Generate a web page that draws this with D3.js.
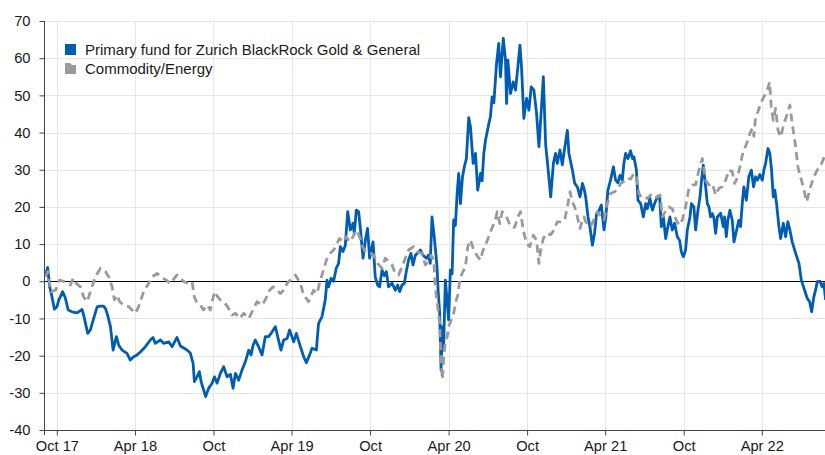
<!DOCTYPE html>
<html>
<head>
<meta charset="utf-8">
<script src="https://cdn.jsdelivr.net/npm/d3@7"></script>
<style>
  body { margin: 0; background: #fff; }
  #chart text { font-family: "Liberation Sans", Arial, sans-serif; fill: #1a1a1a; }
  .grid line { stroke: #e6e6e6; }
  .line { fill: none; stroke-width: 2.8; stroke-linejoin: round; }
</style>
</head>
<body>
<div id="chart"></div>
<script>
// series values, time given as decimal years
var fundSeries = [
  [2017.675,1.5],[2017.689,3.7],[2017.702,-1.5],[2017.717,-4.2],[2017.732,-7.5],[2017.749,-6.8],[2017.760,-5],[2017.770,-4.2],
  [2017.785,-2.8],[2017.802,-4.5],[2017.820,-7.7],[2017.845,-8.2],[2017.877,-8.5],[2017.909,-7.6],[2017.919,-9.1],[2017.945,-14],
  [2017.962,-13.1],[2017.983,-10],[2018.005,-6.9],[2018.026,-6.7],[2018.047,-6.7],[2018.060,-7.5],[2018.072,-9.1],[2018.090,-12.2],
  [2018.107,-18.5],[2018.128,-14.9],[2018.143,-17.2],[2018.164,-18.5],[2018.196,-19.4],[2018.217,-21.2],[2018.238,-20.3],[2018.260,-19.8],
  [2018.281,-19],[2018.313,-17.6],[2018.345,-15.8],[2018.362,-15.1],[2018.377,-16.7],[2018.409,-15.8],[2018.430,-16.7],[2018.462,-16.3],
  [2018.484,-17.6],[2018.515,-15.1],[2018.537,-17.4],[2018.579,-18.5],[2018.600,-19.3],[2018.618,-22.1],[2018.626,-27],[2018.643,-25.7],
  [2018.658,-24.3],[2018.669,-27],[2018.685,-29.2],[2018.698,-31],[2018.717,-28.8],[2018.739,-27.4],[2018.754,-25.7],[2018.771,-27.4],
  [2018.792,-24.8],[2018.813,-23],[2018.835,-25.7],[2018.856,-25],[2018.873,-28.8],[2018.888,-24.8],[2018.909,-26.6],[2018.930,-23.9],
  [2018.952,-21.6],[2018.973,-18.5],[2018.988,-19.8],[2019.001,-17.2],[2019.015,-15.8],[2019.036,-17.6],[2019.058,-19.8],[2019.079,-14.9],
  [2019.100,-14.9],[2019.116,-14],[2019.143,-12.2],[2019.158,-14.9],[2019.179,-18.5],[2019.196,-15.8],[2019.218,-15.4],[2019.234,-13.1],
  [2019.260,-16.3],[2019.277,-14],[2019.303,-17.6],[2019.324,-20.3],[2019.341,-21.9],[2019.362,-19.8],[2019.377,-18],[2019.405,-18.5],
  [2019.419,-11.3],[2019.441,-9.5],[2019.462,-5],[2019.473,0.3],[2019.483,-1.5],[2019.499,0.8],[2019.515,0],[2019.532,3.5],
  [2019.547,4.8],[2019.558,9.3],[2019.575,8],[2019.590,9.7],[2019.605,18.7],[2019.622,13.8],[2019.639,15.6],[2019.647,12.9],
  [2019.660,19.1],[2019.675,18.7],[2019.686,14.2],[2019.703,6.2],[2019.718,11.1],[2019.732,14.2],[2019.745,6.2],[2019.767,10.6],
  [2019.781,1.2],[2019.796,-1],[2019.809,-1.5],[2019.824,3],[2019.839,1.5],[2019.852,2.6],[2019.866,-1.5],[2019.888,-0.5],
  [2019.909,-2.4],[2019.924,-1],[2019.937,-2.8],[2019.952,-1],[2019.967,-0.6],[2019.979,2.6],[2019.994,5.7],[2020.009,7.5],
  [2020.022,4.4],[2020.037,7],[2020.058,7.9],[2020.069,8.4],[2020.086,7],[2020.107,6.2],[2020.120,7],[2020.132,4.8],
  [2020.143,17.3],[2020.154,13.3],[2020.164,9],[2020.175,3.9],[2020.182,-2.4],[2020.192,-8.6],[2020.201,-23.9],[2020.209,-12.2],
  [2020.217,-17.6],[2020.228,0.3],[2020.239,-5],[2020.249,-10.4],[2020.260,3],[2020.271,2],[2020.281,16.5],[2020.292,15],
  [2020.303,23.6],[2020.313,29],[2020.324,20.9],[2020.337,28],[2020.349,30.8],[2020.362,33],[2020.377,44],[2020.388,41.5],
  [2020.405,31.7],[2020.420,34.4],[2020.434,24.5],[2020.452,29],[2020.462,27],[2020.473,34.4],[2020.484,38],[2020.505,42.4],
  [2020.515,44.2],[2020.526,49.6],[2020.537,48],[2020.554,58.6],[2020.568,64],[2020.579,55],[2020.597,65.3],[2020.611,59.5],
  [2020.618,47.8],[2020.626,59.5],[2020.643,50.5],[2020.660,53.6],[2020.675,51.4],[2020.690,57.7],[2020.703,63.5],[2020.713,57.7],
  [2020.728,43.8],[2020.745,49.2],[2020.760,46],[2020.775,52.3],[2020.792,51.4],[2020.809,45.1],[2020.824,36.2],[2020.839,46],
  [2020.852,55],[2020.867,36.6],[2020.881,30.8],[2020.899,22.7],[2020.916,31.7],[2020.930,34.4],[2020.941,31.7],[2020.958,35.3],
  [2020.973,31.3],[2020.983,34.4],[2021.005,40.6],[2021.015,34.4],[2021.037,29.9],[2021.052,26.3],[2021.069,25.4],[2021.086,22.7],
  [2021.101,26.3],[2021.111,25],[2021.122,22.7],[2021.137,17.3],[2021.149,14.7],[2021.165,9.7],[2021.179,13],[2021.192,18.3],
  [2021.207,19],[2021.222,20.5],[2021.239,13.8],[2021.250,17],[2021.264,24.5],[2021.281,27.2],[2021.299,30.8],[2021.313,27.2],
  [2021.328,26.5],[2021.341,28.5],[2021.356,27.2],[2021.366,31.7],[2021.377,34.4],[2021.392,33],[2021.409,35.1],[2021.420,33],
  [2021.430,33.5],[2021.446,29.9],[2021.456,21.8],[2021.473,20.9],[2021.490,17.3],[2021.505,20.9],[2021.516,19.5],[2021.532,22.3],
  [2021.548,19.1],[2021.562,20.9],[2021.580,22.7],[2021.594,23],[2021.605,14.7],[2021.618,17.3],[2021.633,11.5],[2021.647,14.7],
  [2021.660,17.3],[2021.675,13.8],[2021.690,15.6],[2021.707,12],[2021.722,11],[2021.733,7.9],[2021.746,6.6],[2021.760,8.4],
  [2021.771,13.8],[2021.788,17.3],[2021.797,20.9],[2021.813,20],[2021.824,13.8],[2021.839,19.1],[2021.852,22.7],[2021.862,27.2],
  [2021.873,31.2],[2021.888,25.4],[2021.899,20.9],[2021.909,20],[2021.920,17.3],[2021.931,18.2],[2021.941,17],[2021.952,12.9],
  [2021.963,17.3],[2021.984,18.3],[2022.001,14.7],[2022.009,17.3],[2022.020,12],[2022.030,16.4],[2022.043,19.1],[2022.058,16.4],
  [2022.069,10.6],[2022.086,13.8],[2022.100,16.4],[2022.111,14.7],[2022.122,20.9],[2022.132,25.4],[2022.148,21.8],[2022.164,28.1],
  [2022.180,29.9],[2022.194,25.4],[2022.207,28.1],[2022.218,27.2],[2022.234,28.7],[2022.250,27.2],[2022.260,29.9],[2022.271,31.7],
  [2022.286,35.7],[2022.298,34.4],[2022.309,29.9],[2022.320,22.7],[2022.330,24.5],[2022.341,20.9],[2022.356,14.7],[2022.367,11.5],
  [2022.384,15.6],[2022.399,12],[2022.413,16],[2022.426,13.8],[2022.441,10.6],[2022.463,7.5],[2022.484,4.8],[2022.499,0.3],
  [2022.520,-2.4],[2022.537,-4.6],[2022.552,-5.5],[2022.565,-8.2],[2022.579,-4.2],[2022.590,-2.4],[2022.601,-0.1],[2022.618,0],
  [2022.632,-1.5],[2022.643,-0.6],[2022.654,-5]
];

var commoditySeries = [
  [2017.675,1.2],[2017.689,2.6],[2017.711,-2.8],[2017.739,-2.4],[2017.766,0.3],[2017.790,0],[2017.813,-0.6],[2017.834,-1],
  [2017.852,0.8],[2017.873,-0.6],[2017.898,-1.5],[2017.919,-4.2],[2017.941,-5.5],[2017.962,-2.8],[2017.994,1.2],[2018.026,3.5],
  [2018.058,2.6],[2018.079,1.2],[2018.101,-1.5],[2018.115,-5],[2018.132,-3.7],[2018.149,-5.5],[2018.175,-6.4],[2018.206,-6.8],
  [2018.228,-7.7],[2018.249,-8.6],[2018.270,-6.8],[2018.302,-2.8],[2018.334,-0.6],[2018.356,1.2],[2018.388,2.1],[2018.420,1],
  [2018.447,0.3],[2018.473,-0.6],[2018.515,1.7],[2018.558,-0.1],[2018.589,-0.6],[2018.611,-0.1],[2018.626,-4.2],[2018.643,-5.9],
  [2018.664,-6.4],[2018.685,-7.7],[2018.707,-6.4],[2018.728,-7.7],[2018.754,-2.8],[2018.775,-4.2],[2018.792,-5],[2018.813,-5.5],
  [2018.838,-6.8],[2018.867,-9.1],[2018.888,-8.6],[2018.915,-10],[2018.941,-8.6],[2018.973,-10],[2019.001,-7.7],[2019.026,-5.5],
  [2019.058,-6.4],[2019.079,-5],[2019.107,-2.4],[2019.128,-1.5],[2019.149,-2],[2019.175,-3.3],[2019.196,-2.4],[2019.221,-0.4],
  [2019.245,0.6],[2019.271,1.7],[2019.303,-0.6],[2019.324,-3.7],[2019.334,-4.2],[2019.355,-5.5],[2019.387,-2.4],[2019.409,-3.3],
  [2019.430,0.3],[2019.451,3],[2019.469,5.7],[2019.494,7.5],[2019.515,8.4],[2019.537,10.2],[2019.553,11.5],[2019.575,10.6],
  [2019.596,12],[2019.617,10.6],[2019.639,12],[2019.660,13.8],[2019.681,12],[2019.696,9.7],[2019.718,7.9],[2019.739,7.9],
  [2019.771,7],[2019.796,4.8],[2019.824,3.5],[2019.845,6.2],[2019.866,5.3],[2019.888,4.4],[2019.909,2.1],[2019.930,1.7],
  [2019.952,3.9],[2019.973,6.2],[2019.994,8.4],[2020.026,9.3],[2020.051,7.9],[2020.079,7.5],[2020.100,4.4],[2020.121,5.3],
  [2020.137,7],[2020.154,5.7],[2020.164,-1.5],[2020.179,-6.8],[2020.192,-11.3],[2020.201,-21.2],[2020.209,-26.4],[2020.217,-21.2],
  [2020.228,-15.8],[2020.239,-15],[2020.249,-12.2],[2020.265,-10.4],[2020.281,-8.6],[2020.298,-5],[2020.307,-3.7],[2020.320,0.3],
  [2020.335,2.1],[2020.356,3.9],[2020.371,9.3],[2020.388,11.1],[2020.409,8.4],[2020.434,6.6],[2020.452,5.7],[2020.465,8],
  [2020.484,9.7],[2020.515,13.3],[2020.547,16.5],[2020.558,18.7],[2020.575,15.5],[2020.590,18.7],[2020.611,18],[2020.626,16.5],
  [2020.643,14.7],[2020.669,14.5],[2020.690,17.3],[2020.707,18.7],[2020.724,13.8],[2020.745,10.2],[2020.766,9.3],[2020.788,12.4],
  [2020.809,11],[2020.824,4.8],[2020.835,8.4],[2020.852,11.5],[2020.873,12.9],[2020.899,12.5],[2020.920,13.8],[2020.941,16],
  [2020.962,16],[2020.988,16.5],[2021.009,20.9],[2021.022,24.1],[2021.037,21.4],[2021.052,20],[2021.069,17.3],[2021.086,14.2],
  [2021.101,16.5],[2021.111,17.3],[2021.122,16],[2021.135,15.5],[2021.154,14.7],[2021.173,16.5],[2021.197,18.7],[2021.218,17.5],
  [2021.239,16.5],[2021.260,20.9],[2021.281,23.6],[2021.302,24],[2021.324,24.5],[2021.345,26.3],[2021.366,26.8],[2021.388,27.7],
  [2021.409,27.5],[2021.430,29],[2021.446,28],[2021.462,23.6],[2021.479,22.5],[2021.494,22.7],[2021.516,22.3],[2021.537,23.2],
  [2021.558,22.3],[2021.580,22.7],[2021.596,23.2],[2021.612,17.3],[2021.633,19],[2021.654,20],[2021.675,19.5],[2021.696,16.9],
  [2021.718,15.1],[2021.739,16.5],[2021.760,20],[2021.781,25],[2021.803,25.9],[2021.824,25.9],[2021.845,29.9],[2021.867,33],
  [2021.888,27.2],[2021.909,25.9],[2021.931,26.3],[2021.952,23.2],[2021.973,25],[2021.994,25.4],[2022.016,27.2],[2022.037,29.9],
  [2022.058,29.5],[2022.073,26.3],[2022.090,27.8],[2022.107,30.8],[2022.122,33.9],[2022.137,35.7],[2022.154,37.5],[2022.171,39.8],
  [2022.186,41.1],[2022.196,39],[2022.207,44.2],[2022.222,45.6],[2022.239,47.8],[2022.260,49.6],[2022.282,51.4],[2022.296,53.6],
  [2022.307,46.9],[2022.320,43.3],[2022.335,46.5],[2022.350,40.6],[2022.367,38.8],[2022.388,42.4],[2022.410,45.1],[2022.426,47.4],
  [2022.441,42.4],[2022.463,36.2],[2022.477,30.8],[2022.494,28.1],[2022.511,25.4],[2022.533,21.4],[2022.558,25.4],[2022.579,28.1],
  [2022.601,29.9],[2022.622,31],[2022.654,34.4]
];

var seriesNames = ["Primary fund for Zurich BlackRock Gold & General", "Commodity/Energy"];
var xTickDates = ["2017-10-01","2018-04-01","2018-10-01","2019-04-01","2019-10-01","2020-04-01","2020-10-01","2021-04-01","2021-10-01","2022-04-01"];
var xTickLabels = ["Oct 17","Apr 18","Oct","Apr 19","Oct","Apr 20","Oct","Apr 21","Oct","Apr 22"];
var yTicks = [-40,-30,-20,-10,0,10,20,30,40,50,60,70];

function init() {
    var w = 825, h = 455;
    var left = 44, right = 827, top = 21, bottom = 430;

    // decimal year -> Date
    function toDate(t) {
        var yr = Math.floor(t);
        var start = new Date(yr, 0, 1), end = new Date(yr + 1, 0, 1);
        return new Date(+start + (t - yr) * (end - start));
    }
    var parse = d3.timeParse("%Y-%m-%d");

    var x = d3.scaleTime()
        .domain([new Date(2017, 8, 1), new Date(2022, 7, 31)])
        .range([left, right]);
    var y = d3.scaleLinear().domain([-40, 70]).range([bottom, top]);

    var svg = d3.select("#chart").append("svg")
        .attr("width", w).attr("height", h);

    // grid
    var grid = svg.append("g").attr("class", "grid");
    grid.selectAll(".hg").data(yTicks).enter().append("line")
        .attr("x1", left).attr("x2", w)
        .attr("y1", function(d) { return Math.round(y(d)) + 0.5; })
        .attr("y2", function(d) { return Math.round(y(d)) + 0.5; });
    grid.selectAll(".vg").data(xTickDates).enter().append("line")
        .attr("y1", top).attr("y2", bottom)
        .attr("x1", function(d) { return Math.round(x(parse(d))) + 0.5; })
        .attr("x2", function(d) { return Math.round(x(parse(d))) + 0.5; });

    // zero line
    svg.append("line")
        .attr("x1", left).attr("x2", w)
        .attr("y1", Math.round(y(0)) + 0.5).attr("y2", Math.round(y(0)) + 0.5)
        .attr("stroke", "#000").attr("stroke-width", 1);

    var line = d3.line()
        .x(function(d) { return x(toDate(d[0])); })
        .y(function(d) { return y(d[1]); });

    svg.append("path").datum(fundSeries)
        .attr("class", "line")
        .attr("stroke", "#005db5")
        .attr("d", line);

    svg.append("path").datum(commoditySeries)
        .attr("class", "line")
        .attr("stroke", "#9a9a9c")
        .attr("stroke-dasharray", "8,5")
        .attr("d", line);

    // axes
    var yAxis = d3.axisLeft(y).tickValues(yTicks)
        .tickFormat(function(d) { return String(d); })
        .tickSize(5).tickPadding(9);
    var gy = svg.append("g")
        .attr("transform", "translate(" + (left + 0.5) + ",0)")
        .call(yAxis);
    gy.select(".domain").remove();
    gy.selectAll(".tick line").attr("stroke", "#444");
    gy.selectAll("text").attr("font-size", "14.7px");

    var xAxis = d3.axisBottom(x)
        .tickValues(xTickDates.map(parse))
        .tickFormat(function(d, i) { return xTickLabels[i]; })
        .tickSize(5).tickPadding(5);
    var gx = svg.append("g")
        .attr("transform", "translate(0," + (bottom + 0.5) + ")")
        .call(xAxis);
    gx.select(".domain").remove();
    gx.selectAll(".tick line").attr("stroke", "#444");
    gx.selectAll("text").attr("font-size", "14.7px");

    // axis lines
    svg.append("line")
        .attr("x1", left + 0.5).attr("x2", left + 0.5)
        .attr("y1", top).attr("y2", bottom + 5)
        .attr("stroke", "#444");
    svg.append("line")
        .attr("x1", left).attr("x2", w)
        .attr("y1", bottom + 0.5).attr("y2", bottom + 0.5)
        .attr("stroke", "#444");

    // legend
    var colors = ["#005db5", "#9a9a9c"];
    var legend = svg.append("g").attr("transform", "translate(65,44)");
    seriesNames.forEach(function(name, i) {
        var g = legend.append("g").attr("transform", "translate(0," + (i * 19) + ")");
        if (i === 0) {
            g.append("rect").attr("width", 11).attr("height", 11)
                .attr("fill", colors[i]);
        } else {
            // dashed-line swatch: square with a notch on top
            g.append("path")
                .attr("d", "M0,0 H5 L7,2 H11 V11 H0 Z")
                .attr("fill", colors[i]);
        }
        g.append("text").attr("x", 20).attr("y", 10.5)
            .attr("font-size", "15px").text(name);
    });
}
window.onload = init;
</script>
</body>
</html>
